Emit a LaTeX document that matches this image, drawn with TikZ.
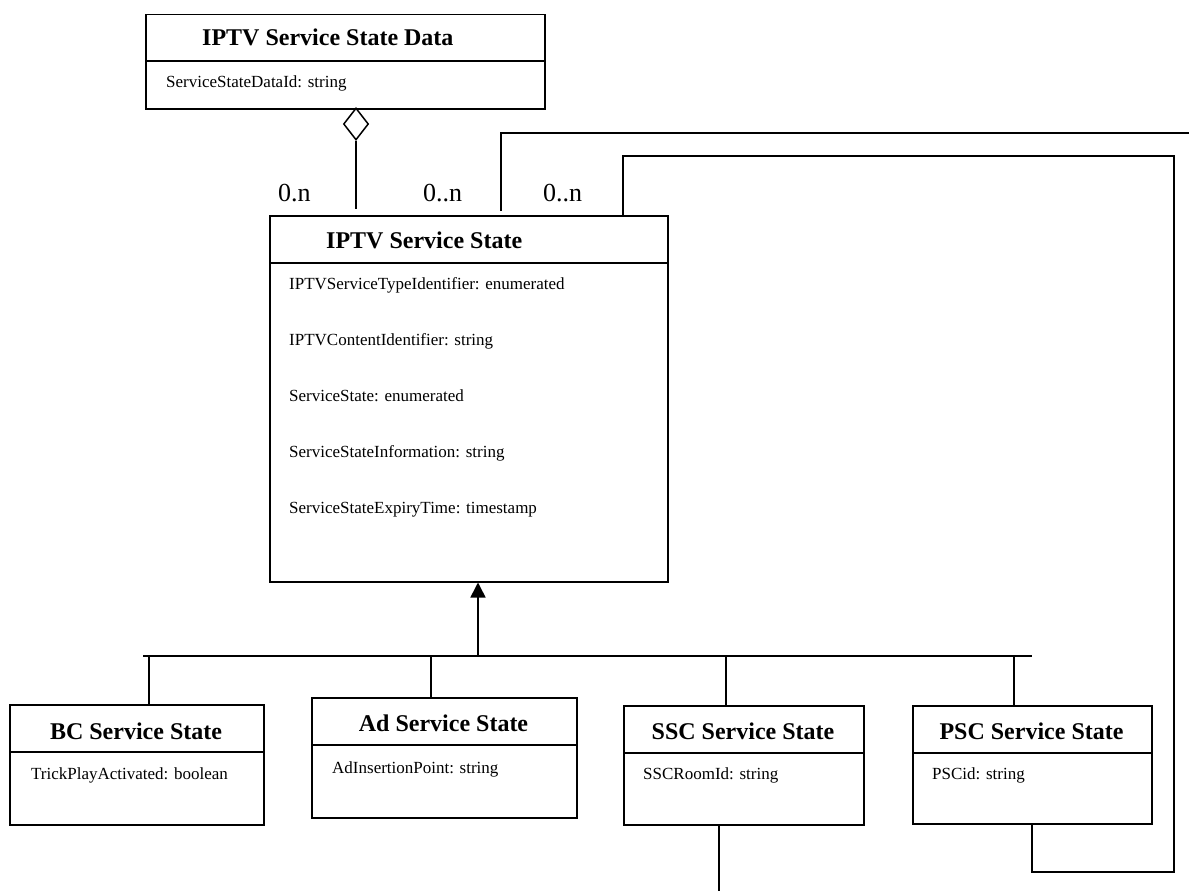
\documentclass[tikz,border=0pt]{standalone}
\usepackage{fontspec}
\setmainfont{Liberation Serif}
\usetikzlibrary{arrows.meta,shapes.geometric}
\tikzset{
  umlbox/.style={draw, line width=1.5pt, inner sep=0pt, anchor=north west},
  hdr/.style={font=\fontsize{24}{28}\selectfont\bfseries, inner sep=0pt, anchor=base},
  hdrw/.style={font=\fontsize{24}{28}\selectfont\bfseries, inner sep=0pt, anchor=base west},
  attr/.style={font=\fontsize{17}{20}\selectfont, inner sep=0pt, anchor=base west},
  mult/.style={font=\fontsize{26}{30}\selectfont, inner sep=0pt, anchor=base west},
  conn/.style={line width=1.6pt},
}
\begin{document}
\begin{tikzpicture}[x=1pt,y=-1pt]
\useasboundingbox (0,0) rectangle (1189,891);
% boxes
\node[umlbox, minimum width=399pt, minimum height=94pt] (data) at (145,14) {};
\node[umlbox, minimum width=398pt, minimum height=366pt] (main) at (269,215) {};
\node[umlbox, minimum width=254pt, minimum height=120pt] (bc) at (9,704) {};
\node[umlbox, minimum width=265pt, minimum height=120pt] (ad) at (311,697) {};
\node[umlbox, minimum width=240pt, minimum height=119pt] (ssc) at (623,705) {};
\node[umlbox, minimum width=239pt, minimum height=118pt] (psc) at (912,705) {};
% dividers
\draw[conn] (data.west |- 0,61) -- (data.east |- 0,61);
\draw[conn] (main.west |- 0,263) -- (main.east |- 0,263);
\draw[conn] (bc.west |- 0,752) -- (bc.east |- 0,752);
\draw[conn] (ad.west |- 0,745) -- (ad.east |- 0,745);
\draw[conn] (ssc.west |- 0,753) -- (ssc.east |- 0,753);
\draw[conn] (psc.west |- 0,753) -- (psc.east |- 0,753);
% texts
\node[hdrw] (tdata) at (202,46) {IPTV Service State Data};
\node[attr] (adata) at (166,88) {ServiceStateDataId: string};
\node[hdrw] (tmain) at (326,248) {IPTV Service State};
\node[attr] (a1) at (289,289) {IPTVServiceTypeIdentifier: enumerated};
\node[attr] (a2) at (289,345) {IPTVContentIdentifier: string};
\node[attr] (a3) at (289,401) {ServiceState: enumerated};
\node[attr] (a4) at (289,457) {ServiceStateInformation: string};
\node[attr] (a5) at (289,513) {ServiceStateExpiryTime: timestamp};
\node[hdr] (tbc) at (136,739) {BC Service State};
\node[attr] (abc) at (31,779) {TrickPlayActivated: boolean};
\node[hdr] (tad) at (443.5,731) {Ad Service State};
\node[attr] (aad) at (332,773) {AdInsertionPoint: string};
\node[hdr] (tssc) at (743,739) {SSC Service State};
\node[attr] (assc) at (643,779) {SSCRoomId: string};
\node[hdr] (tpsc) at (1031.5,739) {PSC Service State};
\node[attr] (apsc) at (932,779) {PSCid: string};
% multiplicities
\node[mult] (m1) at (278,201) {0.n};
\node[mult] (m2) at (423,201) {0..n};
\node[mult] (m3) at (543,201) {0..n};
% aggregation
\node[diamond, draw, line width=1.5pt, minimum width=25pt, minimum height=32pt, inner sep=0pt] (agg) at (356,124) {};
\coordinate (aggend) at (356,209);
\draw[conn] (agg.south) -- (aggend);
% self associations
\coordinate (l1b) at (501,211);
\coordinate (l1t) at (501,133);
\coordinate (l1e) at (1189,133);
\draw[conn] (l1b) -- (l1t) -- (l1e);
\coordinate (l2b) at (623,215);
\coordinate (l2t) at (623,156);
\coordinate (l2r) at (1174,156);
\coordinate (l2d) at (1174,872);
\coordinate (l2l) at (1032,872);
\draw[conn] (l2b) -- (l2t) -- (l2r) -- (l2d) -- (l2l) -- (1032,0 |- psc.south);
% inheritance
\coordinate (hl) at (143,656);
\coordinate (hr) at (1032,656);
\coordinate (hm) at (478,656);
\draw[conn] (hl) -- (hr);
\draw[conn, -{Triangle[length=15pt,width=15pt]}] (hm) -- (478,0 |- main.south);
\draw[conn] (149,656) -- (149,0 |- bc.north);
\draw[conn] (431,656) -- (431,0 |- ad.north);
\draw[conn] (726,656) -- (726,0 |- ssc.north);
\draw[conn] (1014,656) -- (1014,0 |- psc.north);
% ssc outgoing
\coordinate (sscend) at (719,891);
\draw[conn] (719,0 |- ssc.south) -- (sscend);
\end{tikzpicture}
\end{document}
